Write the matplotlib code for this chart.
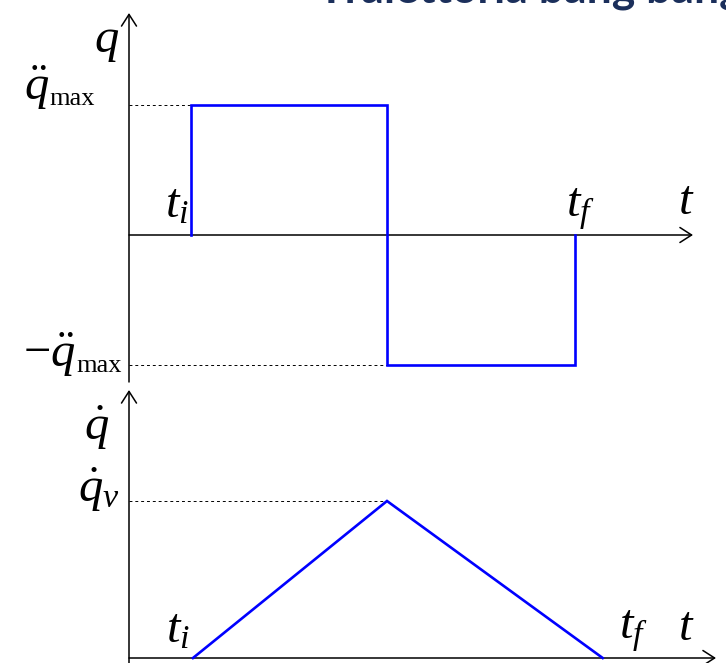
import matplotlib
matplotlib.use("Agg")
import matplotlib.pyplot as plt

plt.rcParams["mathtext.fontset"] = "custom"
plt.rcParams["mathtext.rm"] = "Liberation Serif"
plt.rcParams["mathtext.it"] = "Liberation Serif:italic"
plt.rcParams["mathtext.bf"] = "Liberation Serif:bold"

# Acceleration profile (bang-bang): time breakpoints and levels
acc_t = [0.6, 0.6, 2.5, 2.5, 4.32, 4.32]
acc_q = [0.0, 1.0, 1.0, -1.0, -1.0, 0.0]
acc_max = 1.0

# Velocity profile: triangular
vel_t = [0.62, 2.5, 4.59]
vel_q = [0.0, 1.0, 0.0]
vel_peak = 1.0

BLUE = "#0000ff"
W, H = 726, 663
fig = plt.figure(figsize=(W / 100, H / 100), dpi=100)

# pixel scales used to place each panel's origin
sx = 103.2
x0 = 129
xlim = (-x0 / sx, (W - x0) / sx)

# upper panel: acceleration
ax1 = fig.add_axes([0, 0, 1, 1])
s1, y1 = 130.0, 235
ax1.set_xlim(*xlim)
ax1.set_ylim(-(H - y1) / s1, y1 / s1)
ax1.axis("off")

# lower panel: velocity
ax2 = fig.add_axes([0, 0, 1, 1])
s2, y2 = 157.0, 658
ax2.set_xlim(*xlim)
ax2.set_ylim(-(H - y2) / s2, y2 / s2)
ax2.axis("off")
ax2.patch.set_alpha(0)

arrow = dict(arrowstyle="->,head_length=0.7,head_width=0.45", color="black",
             lw=1.1, shrinkA=0, shrinkB=0, mutation_scale=12)

# axes with arrows
ax1.annotate("", xy=(0, (y1 - 13) / s1), xytext=(0, -(382 - y1) / s1), arrowprops=arrow)
ax1.annotate("", xy=((693 - x0) / sx, 0), xytext=(0, 0), arrowprops=arrow)
ax2.annotate("", xy=(0, (y2 - 390) / s2), xytext=(0, -(H - y2) / s2), arrowprops=arrow)
ax2.annotate("", xy=((716 - x0) / sx, 0), xytext=(0, 0), arrowprops=arrow)

# curves
ax1.plot(acc_t, acc_q, color=BLUE, lw=1.9, solid_joinstyle="miter", zorder=3)
ax2.plot(vel_t, vel_q, color=BLUE, lw=1.9, solid_joinstyle="miter", zorder=3)

# dashed guide lines
dash = dict(color="black", lw=0.7, ls=(0, (3, 3)))
ax1.plot([0, acc_t[1]], [acc_max, acc_max], **dash)
ax1.plot([0, acc_t[3]], [-acc_max, -acc_max], **dash)
ax2.plot([0, vel_t[1]], [vel_peak, vel_peak], **dash)

fs = 35
def lab(ax, x, y, s, ha="center", va="center", size=fs, **kw):
    ax.text(x, y, s, ha=ha, va=va, fontsize=size, color="black", **kw)

def max_label(ax, x_sub, y_base, main):
    # symbol right-aligned against a smaller "max" subscript
    lab(ax, x_sub, y_base, main, ha="right", va="baseline")
    lab(ax, x_sub, y_base - 5 / s1, "max", ha="left", va="baseline",
        size=19, family="Liberation Serif")

# upper panel labels
lab(ax1, -0.22, (y1 - 40) / s1, r"$q$")
max_label(ax1, (49 - x0) / sx, (y1 - 100) / s1, r"$\ddot{q}$")
max_label(ax1, (76 - x0) / sx, (y1 - 367) / s1, r"$-\ddot{q}$")
lab(ax1, acc_t[0] - 0.14, (y1 - 203) / s1, r"$t_i$")
lab(ax1, acc_t[4] + 0.05, (y1 - 208) / s1, r"$t_f$")
lab(ax1, (686 - x0) / sx, (y1 - 200) / s1, r"$t$")

# lower panel labels
lab(ax2, -0.31, (y2 - 428) / s2, r"$\dot{q}$")
lab(ax2, -0.29, (y2 - 490) / s2, r"$\dot{q}_v$")
lab(ax2, vel_t[0] - 0.15, (y2 - 628) / s2, r"$t_i$")
lab(ax2, vel_t[2] + 0.3, (y2 - 630) / s2, r"$t_f$")
lab(ax2, (686 - x0) / sx, (y2 - 626) / s2, r"$t$")

# heading, partly above the top edge
fig.text(318 / W, 1 - 3 / H, "Traiettoria bang bang", fontsize=32, fontweight="bold",
         color="#1b2f5b", family="Lato", ha="left", va="baseline")

fig.savefig("out.png", dpi=100)
